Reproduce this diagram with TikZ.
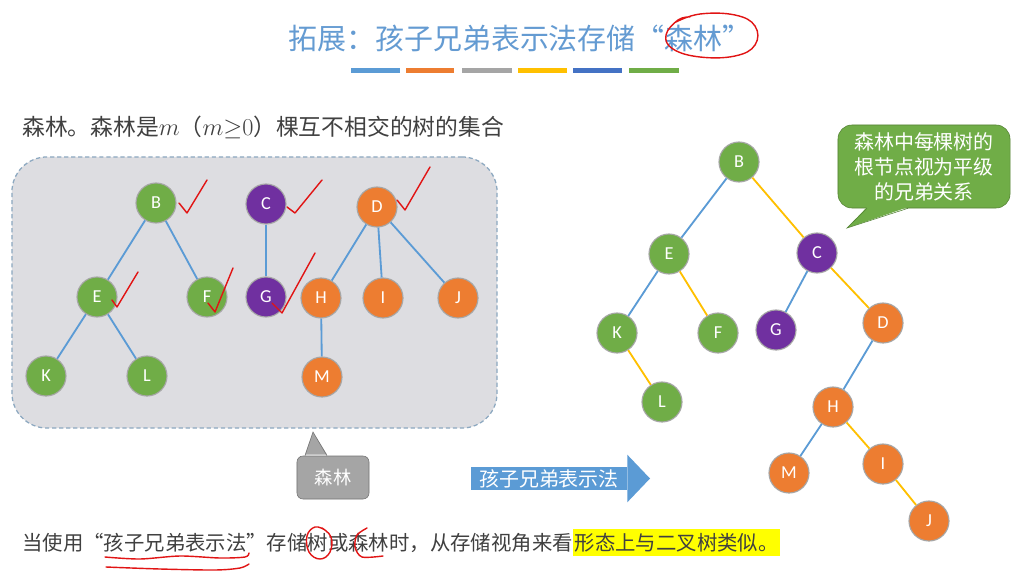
\documentclass[tikz,border=0pt]{standalone}
\usepackage{fontspec}
\usepackage{tikz}
\usetikzlibrary{positioning}
\setmainfont{Liberation Serif}
\newfontfamily\cjk{Noto Sans CJK SC}
\newfontfamily\letterfont{Carlito}
\definecolor{titleblue}{RGB}{100,155,210}
\definecolor{tblue}{RGB}{91,155,213}
\definecolor{torange}{RGB}{237,125,49}
\definecolor{tgray}{RGB}{165,165,165}
\definecolor{tyellow}{RGB}{255,192,0}
\definecolor{tdblue}{RGB}{68,114,196}
\definecolor{tgreen}{RGB}{112,173,71}
\definecolor{tpurple}{RGB}{112,48,160}
\definecolor{boxgray}{RGB}{221,221,225}
\definecolor{boxline}{RGB}{140,168,192}
\definecolor{textgray}{RGB}{64,64,64}
\definecolor{inkred}{RGB}{225,20,20}
\definecolor{hlyellow}{RGB}{255,255,0}

\begin{document}
\begin{tikzpicture}[
    x=0.025cm, y=-0.025cm,
    tnode/.style={circle, draw=black!35, line width=0.8pt, minimum size=1cm, inner sep=0pt, text=white, font=\letterfont\fontsize{13}{13}\selectfont},
    gnode/.style={tnode, fill=tgreen},
    pnode/.style={tnode, fill=tpurple},
    onode/.style={tnode, fill=torange},
    child/.style={draw=tblue, line width=1.3pt},
    sibling/.style={draw=tyellow, line width=1.3pt},
    body/.style={font=\cjk\fontsize{14.5}{17}\selectfont, text=textgray, inner sep=0pt},
    callout/.style={rounded corners, align=center, text=white, font=\cjk\fontsize{14.2}{17.8}\selectfont},
    ink/.style={draw=inkred, line width=1pt, line cap=round, line join=round}
]
    \useasboundingbox [fill=white] (0,0) rectangle (1012,572);

    \node [font=\cjk\fontsize{20.6}{24}\selectfont, text=titleblue] (title) at (520,38) {拓展：孩子兄弟表示法存储“森林”};
    \fill [tblue] (351,68) rectangle (400,73);
    \fill [torange] (406,68) rectangle (454,73);
    \fill [tgray] (462,68) rectangle (512,73);
    \fill [tyellow] (518,68) rectangle (567,73);
    \fill [tdblue] (573,68) rectangle (622,73);
    \fill [tgreen] (629,68) rectangle (679,73);

    \node [body, font=\cjk\fontsize{16.2}{19}\selectfont, anchor=west] (defn) at (22,127) {森林。森林是$m$（$m{\geq}0$）棵互不相交的树的集合};

    \node [draw=boxline, fill=boxgray, dash pattern=on 3pt off 2pt, line width=0.9pt, rounded corners=0.875cm, minimum width=12.125cm, minimum height=6.775cm] (forest) at (254.5,292.5) {};

    \node [gnode] (fB) at (156,203) {B};
    \node [gnode] (fE) at (97,297) {E};
    \node [gnode] (fF) at (207,297) {F};
    \node [gnode] (fK) at (46,376) {K};
    \node [gnode] (fL) at (147,376) {L};
    \node [pnode] (fC) at (266,204) {C};
    \node [pnode] (fG) at (266,297) {G};
    \node [onode] (fD) at (377,207) {D};
    \node [onode] (fH) at (321,298) {H};
    \node [onode] (fI) at (383,298) {I};
    \node [onode] (fJ) at (458,298) {J};
    \node [onode] (fM) at (322,377) {M};

    \draw [child] (fB) -- (fE) (fB) -- (fF) (fE) -- (fK) (fE) -- (fL);
    \draw [child] (fC) -- (fG);
    \draw [child] (fD) -- (fH) (fD) -- (fI) (fD) -- (fJ) (fH) -- (fM);

    \node [gnode] (bB) at (739,162) {B};
    \node [gnode] (bE) at (669,254) {E};
    \node [pnode] (bC) at (817,253) {C};
    \node [gnode] (bK) at (617,333) {K};
    \node [gnode] (bF) at (718,333) {F};
    \node [pnode] (bG) at (776,330) {G};
    \node [onode] (bD) at (883,323) {D};
    \node [gnode] (bL) at (662,402) {L};
    \node [onode] (bH) at (833,407) {H};
    \node [onode] (bM) at (789,473) {M};
    \node [onode] (bI) at (883,464) {I};
    \node [onode] (bJ) at (929,521) {J};

    \draw [child] (bB) -- (bE) (bE) -- (bK) (bC) -- (bG) (bD) -- (bH) (bH) -- (bM);
    \draw [sibling] (bB) -- (bC) (bE) -- (bF) (bK) -- (bL) (bC) -- (bD) (bH) -- (bI) (bI) -- (bJ);

    \node [callout, fill=tgreen, draw=tgreen!75!black, rounded corners=0.35cm, minimum width=4.3cm, minimum height=2.075cm] (note) at (924,166.5) {森林中每棵树的\\根节点视为平级\\的兄弟关系};
    \coordinate (notetip) at (847,228);
    \fill [tgreen] ([xshift=-1.425cm, yshift=0.03cm]note.south) -- (notetip) -- ([xshift=-0.4cm, yshift=0.03cm]note.south) -- cycle;
    \draw [tgreen!75!black] ([xshift=-1.425cm]note.south) -- (notetip) -- ([xshift=-0.4cm]note.south);

    \node [callout, fill=tgray, draw=tgray!70!black, rounded corners=0.15cm, minimum width=1.8cm, minimum height=1.075cm, font=\cjk\fontsize{13}{15}\selectfont] (lbl) at (333,477.5) {森林};
    \coordinate (lbltip) at (313,432);
    \fill [tgray] ([xshift=-0.7cm, yshift=0.03cm]lbl.north) -- (lbltip) -- ([xshift=-0.15cm, yshift=0.03cm]lbl.north) -- cycle;
    \draw [tgray!70!black] ([xshift=-0.7cm]lbl.north) -- (lbltip) -- ([xshift=-0.15cm]lbl.north);

    \node [fill=tblue, text=white, inner sep=0pt, minimum width=3.9cm, minimum height=0.575cm, font=\cjk\fontsize{14.2}{17}\selectfont] (rep) at (549,478.5) {孩子兄弟表示法};
    \coordinate (reptip) at (650,478.5);
    \fill [tblue] ([yshift=0.3cm]rep.north east) -- (reptip) -- ([yshift=-0.3cm]rep.south east) -- cycle;

    \node [body, anchor=base west] (usage) at (22,550) {当使用“孩子兄弟表示法”存储树或森林时，从存储视角来看};
    \node [body, fill=hlyellow, inner xsep=1pt, inner ysep=3pt, anchor=base west] (similar) at (usage.base east) {形态上与二叉树类似。};

    \draw [ink] plot [smooth, tension=0.7] coordinates {(676,22) (700,14) (735,15) (755,26) (755,45) (735,56) (700,57) (673,49) (666,35) (678,20) (690,17)};
    \draw [ink] (179,203) -- (187,213) -- (207,180);
    \draw [ink] (287,207) -- (295,213) -- (322,180);
    \draw [ink] (397,200) -- (405,210) -- (430,167);
    \draw [ink] (112,300) -- (117,307) -- (138,272);
    \draw [ink] (208,303) -- (215,312) -- (233,268);
    \draw [ink] (272,303) -- (282,313) -- (315,253);
    \draw [ink] plot [smooth] coordinates {(105,557) (140,559) (180,556) (220,558) (245,557) (249,553)};
    \draw [ink] plot [smooth] coordinates {(106,567) (160,569) (215,570) (240,568) (249,564)};
    \draw [ink] plot [smooth, tension=0.7] coordinates {(322,528) (331,537) (330,552) (320,559) (309,552) (307,536) (315,527) (325,530)};
    \draw [ink] plot [smooth] coordinates {(367,528) (357,535) (355,547) (362,557) (383,556)};
\end{tikzpicture}
\end{document}
